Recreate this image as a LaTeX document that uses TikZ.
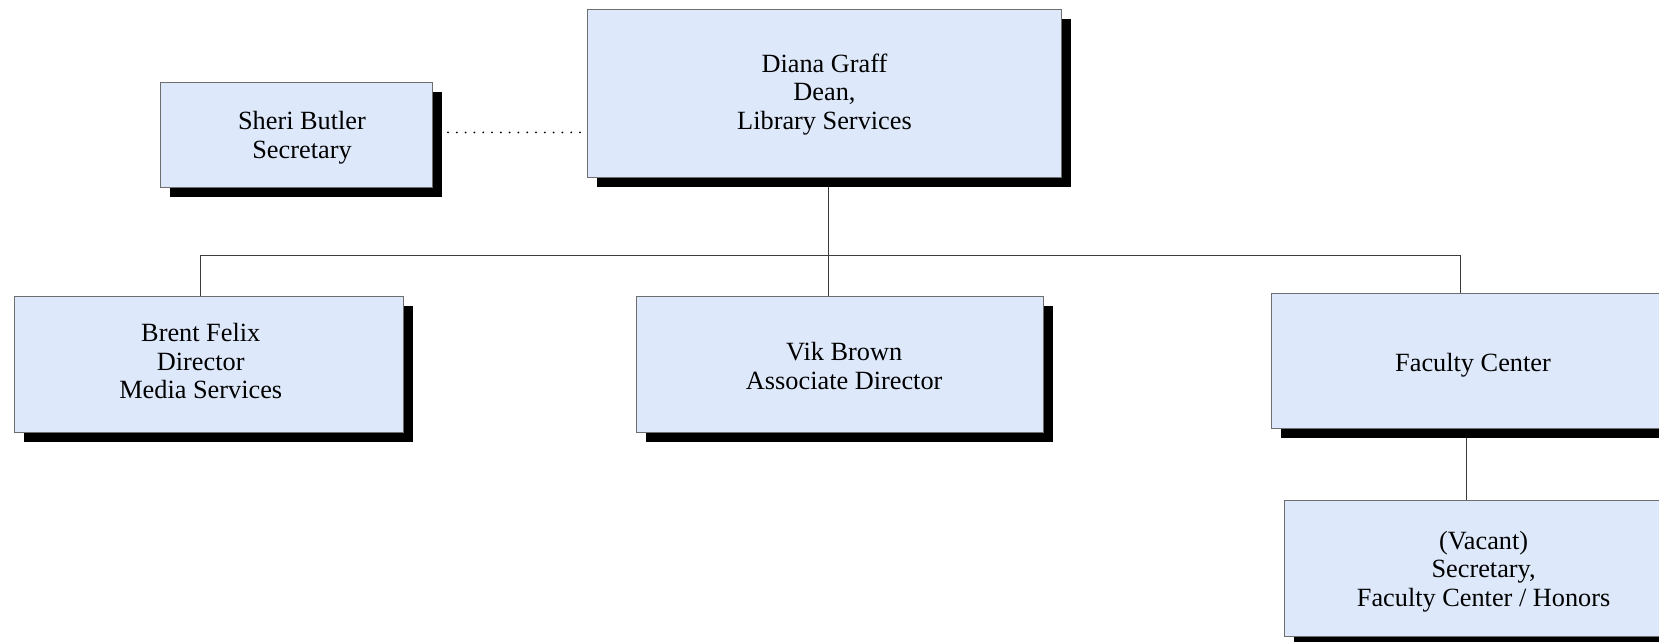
\documentclass[tikz,border=0pt]{standalone}
\usepackage{fontspec}
\setmainfont{Liberation Serif}
\usetikzlibrary{shadows,backgrounds}
\definecolor{boxfill}{RGB}{221,232,250}
\definecolor{boxline}{RGB}{110,110,110}
\definecolor{conline}{RGB}{60,60,60}
\newcommand\boxtext[3]{\raisebox{#2}[\height][\depth]{\kern#1\begin{tabular}{@{}c@{}}#3\end{tabular}\kern-#1}}
\tikzset{
  orgbox/.style={draw=boxline, line width=1pt, fill=boxfill, inner sep=0pt,
    font=\fontsize{26.3}{28.5}\selectfont,
    drop shadow={shadow xshift=9.5pt, shadow yshift=-9.5pt, fill=black, opacity=1}},
  conn/.style={draw=conline, line width=1pt},
  dotline/.style={draw=black, line width=2pt, line cap=round, dash pattern=on 0pt off 8.8pt}
}
\begin{document}
\begin{tikzpicture}[x=1pt,y=-1pt]
\useasboundingbox (0,0) rectangle (1659,642);
\node[orgbox, minimum width=272pt, minimum height=104.5pt] (sheri) at (296,134.75) {\boxtext{6pt}{-3.75pt}{Sheri Butler\\Secretary}};
\node[orgbox, minimum width=474pt, minimum height=167.8pt] (diana) at (824.5,93.4) {\boxtext{0pt}{-1.5pt}{Diana Graff\\Dean,\\Library Services}};
\node[orgbox, minimum width=389.5pt, minimum height=135.6pt] (brent) at (208.75,364.5) {\boxtext{-8pt}{0pt}{Brent Felix\\Director\\Media Services}};
\node[orgbox, minimum width=407pt, minimum height=135.6pt] (vik) at (839.5,364.5) {\boxtext{4.7pt}{-5pt}{Vik Brown\\Associate Director}};
\node[orgbox, minimum width=404pt, minimum height=135.4pt] (faculty) at (1473,361) {\boxtext{0pt}{-5pt}{Faculty Center}};
\node[orgbox, minimum width=398.7pt, minimum height=135.7pt] (vacant) at (1483.6,568.2) {\boxtext{0pt}{-3.6pt}{(Vacant)\\Secretary,\\Faculty Center / Honors}};
\coordinate (vx) at (828.5,0);
\coordinate (busL) at (200,255.7);
\coordinate (busR) at (1460,255.7);
\coordinate (fx) at (1466.5,0);
\coordinate (d1) at ([xshift=15.5pt,yshift=2.3pt]sheri.east);
\begin{scope}[on background layer]
\draw[conn] (diana.south -| vx) -- (vik.north -| vx);
\draw[conn] (brent.north -| busL) -- (busL) -- (busR) -- (faculty.north -| busR);
\draw[conn] (faculty.south -| fx) -- (vacant.north -| fx);
\end{scope}
\draw[dotline] (d1) -- (d1 -| diana.west);
\end{tikzpicture}
\end{document}
